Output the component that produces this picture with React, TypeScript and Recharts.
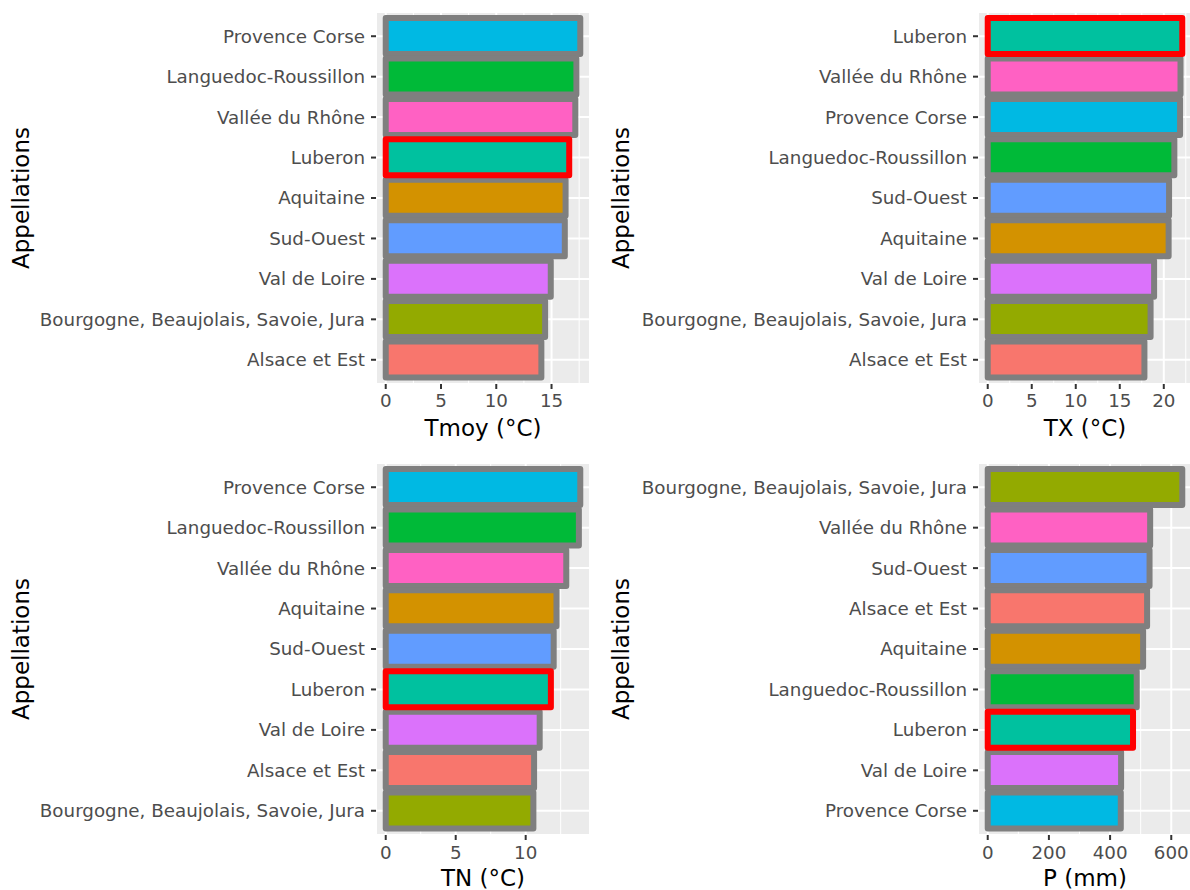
import { BarChart, Bar, XAxis, YAxis, CartesianGrid, Cell } from 'recharts';

// rows are listed top to bottom, as in the picture
const TMOY_NAMES = ['Provence Corse', 'Languedoc-Roussillon', 'Vallée du Rhône', 'Luberon', 'Aquitaine', 'Sud-Ouest', 'Val de Loire', 'Bourgogne, Beaujolais, Savoie, Jura', 'Alsace et Est'];
const TMOY_VALUES = [17.6, 17.25, 17.15, 16.6, 16.27, 16.2, 14.93, 14.42, 14.08];
const TMOY_TICKS = [0, 5, 10, 15];
const TMOY_MINOR = [2.5, 7.5, 12.5, 17.5];

const TX_NAMES = ['Luberon', 'Vallée du Rhône', 'Provence Corse', 'Languedoc-Roussillon', 'Sud-Ouest', 'Aquitaine', 'Val de Loire', 'Bourgogne, Beaujolais, Savoie, Jura', 'Alsace et Est'];
const TX_VALUES = [22.1, 21.9, 21.85, 21.2, 20.6, 20.55, 18.9, 18.5, 17.8];
const TX_TICKS = [0, 5, 10, 15, 20];
const TX_MINOR = [2.5, 7.5, 12.5, 17.5, 22.5];

const TN_NAMES = ['Provence Corse', 'Languedoc-Roussillon', 'Vallée du Rhône', 'Aquitaine', 'Sud-Ouest', 'Luberon', 'Val de Loire', 'Alsace et Est', 'Bourgogne, Beaujolais, Savoie, Jura'];
const TN_VALUES = [13.9, 13.8, 12.9, 12.2, 12.0, 11.8, 11.0, 10.6, 10.55];
const TN_TICKS = [0, 5, 10];
const TN_MINOR = [2.5, 7.5, 12.5];

const P_NAMES = ['Bourgogne, Beaujolais, Savoie, Jura', 'Vallée du Rhône', 'Sud-Ouest', 'Alsace et Est', 'Aquitaine', 'Languedoc-Roussillon', 'Luberon', 'Val de Loire', 'Provence Corse'];
const P_VALUES = [636, 531, 529, 521, 508, 487, 475, 436, 435];
const P_TICKS = [0, 200, 400, 600];
const P_MINOR = [100, 300, 500];

const HIGHLIGHT = 'Luberon';

const COLORS: Record<string, string> = {
  'Alsace et Est': '#F8766D',
  'Aquitaine': '#D39200',
  'Bourgogne, Beaujolais, Savoie, Jura': '#93AA00',
  'Languedoc-Roussillon': '#00BA38',
  'Luberon': '#00C19F',
  'Provence Corse': '#00B9E3',
  'Sud-Ouest': '#619CFF',
  'Val de Loire': '#DB72FB',
  'Vallée du Rhône': '#FF61C3',
};

const FONT = 'DejaVu Sans';

type PanelProps = {
  names: string[];
  values: number[];
  ticks: number[];
  minor: number[];
  title: string;
  left: number;
  top: number;
  width: number;
  marginTop: number;
  marginRight: number;
  yAxisWidth: number;
  xAxisHeight: number;
  xTitleOffset: number;
  xTickMargin: number;
  yTitleOffset: number;
};

const Panel = (p: PanelProps) => {
  // base bar for everything, highlight bar (drawn last) for Luberon only
  const rows = p.names.map((name, i) => ({
    name,
    base: name === HIGHLIGHT ? 0 : p.values[i],
    hi: name === HIGHLIGHT ? p.values[i] : 0,
  }));
  const max = Math.max(...p.values);
  const domain = [-0.05 * max, 1.05 * max];

  return (
    <div style={{ position: 'absolute', left: p.left, top: p.top }}>
      <BarChart
        width={p.width}
        height={445}
        data={rows}
        layout="vertical"
        margin={{ top: p.marginTop, right: p.marginRight, bottom: 0, left: 0 }}
      >
        <CartesianGrid fill="#EBEBEB" fillOpacity={1} stroke="#FFFFFF" strokeWidth={2} />
        <CartesianGrid xAxisId="minor" horizontal={false} stroke="#FFFFFF" strokeWidth={1} />
        <XAxis
          type="number"
          domain={domain}
          ticks={p.ticks}
          allowDataOverflow
          height={p.xAxisHeight}
          axisLine={false}
          tickSize={5}
          tickMargin={p.xTickMargin}
          tickLine={{ stroke: '#333333', strokeWidth: 2 }}
          tick={{ fill: '#4D4D4D', fontSize: 18.3, fontFamily: FONT }}
          label={{
            value: p.title,
            position: 'insideBottom',
            offset: p.xTitleOffset,
            style: { fill: '#000000', fontSize: 23, fontFamily: FONT },
          }}
        />
        <XAxis xAxisId="minor" type="number" domain={domain} ticks={p.minor} allowDataOverflow hide />
        <YAxis
          type="category"
          dataKey="name"
          width={p.yAxisWidth}
          padding={{ top: 4, bottom: 4 }}
          axisLine={false}
          tickSize={5}
          tickMargin={6}
          tickLine={{ stroke: '#333333', strokeWidth: 2 }}
          tick={{ fill: '#4D4D4D', fontSize: 18.3, fontFamily: FONT }}
          interval={0}
          label={{
            value: 'Appellations',
            angle: -90,
            position: 'insideLeft',
            offset: p.yTitleOffset,
            style: { textAnchor: 'middle', fill: '#000000', fontSize: 23, fontFamily: FONT },
          }}
        />
        <Bar
          dataKey="base"
          stackId="s"
          barSize={36}
          stroke="#7F7F7F"
          strokeWidth={6}
          strokeLinejoin="round"
          isAnimationActive={false}
        >
          {rows.map((r) => (
            <Cell key={r.name} fill={COLORS[r.name]} />
          ))}
        </Bar>
        <Bar
          dataKey="hi"
          stackId="s"
          barSize={36}
          stroke="#FF0000"
          strokeWidth={6}
          strokeLinejoin="round"
          isAnimationActive={false}
        >
          {rows.map((r) => (
            <Cell key={r.name} fill={COLORS[r.name]} />
          ))}
        </Bar>
      </BarChart>
    </div>
  );
};

export default function App() {
  return (
    <div
      style={{
        position: 'absolute',
        left: 0,
        top: 0,
        width: 1190,
        height: 890,
        overflow: 'hidden',
        background: '#FFFFFF',
        fontFamily: FONT,
      }}
    >
      <Panel names={TMOY_NAMES} values={TMOY_VALUES} ticks={TMOY_TICKS} minor={TMOY_MINOR} title="Tmoy (°C)"
        left={0} top={0} width={595} marginTop={12} marginRight={5} yAxisWidth={376} xAxisHeight={61}
        xTitleOffset={9} xTickMargin={5} yTitleOffset={21} />
      <Panel names={TX_NAMES} values={TX_VALUES} ticks={TX_TICKS} minor={TX_MINOR} title="TX (°C)"
        left={595} top={0} width={597} marginTop={12} marginRight={0} yAxisWidth={383} xAxisHeight={61}
        xTitleOffset={9} xTickMargin={5} yTitleOffset={26} />
      <Panel names={TN_NAMES} values={TN_VALUES} ticks={TN_TICKS} minor={TN_MINOR} title="TN (°C)"
        left={0} top={445} width={595} marginTop={18} marginRight={5} yAxisWidth={376} xAxisHeight={55}
        xTitleOffset={4} xTickMargin={6} yTitleOffset={21} />
      <Panel names={P_NAMES} values={P_VALUES} ticks={P_TICKS} minor={P_MINOR} title="P (mm)"
        left={595} top={445} width={597} marginTop={18} marginRight={0} yAxisWidth={383} xAxisHeight={55}
        xTitleOffset={4} xTickMargin={6} yTitleOffset={26} />
    </div>
  );
}
